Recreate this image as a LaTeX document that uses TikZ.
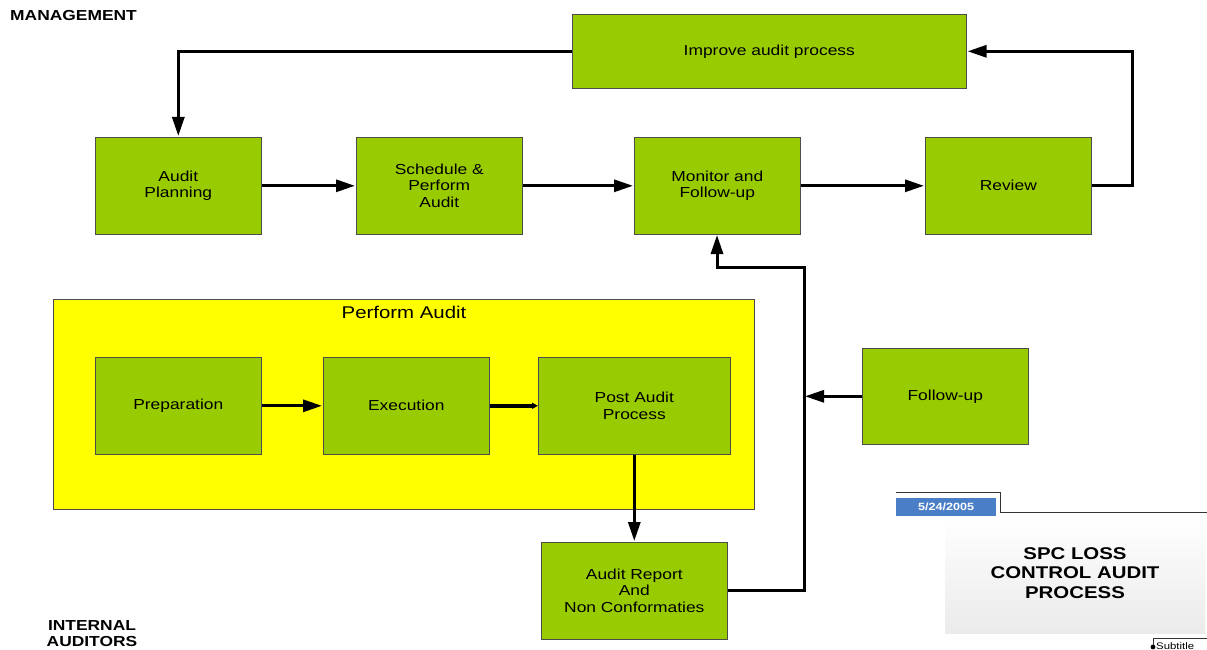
\documentclass[tikz,border=0pt]{standalone}
\usepackage{fontspec}
\setmainfont{Liberation Sans}[FakeStretch=1.2]
\usetikzlibrary{arrows.meta}
\definecolor{boxgreen}{HTML}{99CC00}
\definecolor{dateblue}{HTML}{4A7EC6}
\definecolor{framey}{HTML}{FFFF00}
\begin{document}
\begin{tikzpicture}[x=1pt,y=-1pt,
  stepbox/.style={draw=black!70, line width=0.6pt, fill=boxgreen, anchor=north west,
    minimum width=#1, align=center, font=\fontsize{14.5}{16.7}\selectfont, inner sep=0pt},
  flow/.style={line width=3pt, -{Triangle[length=19pt,width=12pt]}, shorten >=1pt},
  lane/.style={font=\bfseries\fontsize{14.5}{16}\selectfont, align=center}
]
\useasboundingbox (0,0) rectangle (1207,650);

% lane labels
\node[lane, anchor=west, inner sep=0pt] (mgmt) at (10,16) {MANAGEMENT};
\node[lane] (aud) at (92,634) {INTERNAL\\AUDITORS};

% yellow sub-process frame
\node[draw=black!70, fill=framey, line width=0.6pt, anchor=north west, minimum width=701pt, minimum height=210pt, inner sep=0pt] (frame) at (53,299) {};
\node[font=\fontsize{17}{19}\selectfont] (frametitle) at (404,312) {Perform Audit};

% process boxes
\node[stepbox=394pt, minimum height=74pt] (improve) at (572,14) {Improve audit process};
\node[stepbox=166pt, minimum height=97pt] (plan) at (95,137) {Audit\\Planning};
\node[stepbox=166pt, minimum height=97pt] (sched) at (356,137) {Schedule \&\\Perform\\Audit};
\node[stepbox=166pt, minimum height=97pt] (monitor) at (634,137) {Monitor and\\Follow-up};
\node[stepbox=166pt, minimum height=97pt] (review) at (925,137) {Review};
\node[stepbox=166pt, minimum height=97pt] (prep) at (95,357) {Preparation};
\node[stepbox=166pt, minimum height=97pt] (exec) at (323,357) {Execution};
\node[stepbox=192pt, minimum height=97pt] (post) at (538,357) {Post Audit\\Process};
\node[stepbox=166pt, minimum height=96pt] (follow) at (862,348) {Follow-up};
\node[stepbox=186pt, minimum height=97pt] (report) at (541,542) {Audit Report\\And\\Non Conformaties};

% connectors
\draw[flow] (improve.west) -| (plan.north);
\draw[flow] (review.east) -- ++(41,0) |- (improve.east);
\draw[flow] (plan.east) -- (sched.west);
\draw[flow] (sched.east) -- (monitor.west);
\draw[flow] (monitor.east) -- (review.west);
\draw[flow] (prep.east) -- (exec.west);
\draw[line width=3.6pt, -{Triangle[length=6pt,width=6pt]}] (exec.east) -- (post.west);
\draw[flow] (post.south) -- (report.north);
\coordinate (riser) at (804,267);
\coordinate (monin) at (717,234);
\draw[flow] (report.east) -| (riser) -| (monin);
\draw[flow] (follow.west) -- (riser |- follow.west);

% title block
\draw[black!80, line width=0.8pt] (896,492) -- (1000,492) -- (1000,512) -- (1207,512);
\node[fill=dateblue, anchor=north west, minimum width=100pt, minimum height=18pt, inner sep=0pt,
  text=white, font=\bfseries\fontsize{10.5}{12}\selectfont] (date) at (896,498) {5/24/2005};
\shade[top color=white, bottom color=black!8] (945,516) rectangle (1205,633);
\node[font=\bfseries\fontsize{17}{19.5}\selectfont, align=center] (title) at (1075,573) {SPC LOSS\\CONTROL AUDIT\\PROCESS};
\draw[black!80, line width=0.8pt] (1153,647) -- (1153,638) -- (1207,638);
\fill (1153,647) circle (2.4pt);
\node[anchor=west, font=\fontsize{9.5}{10}\selectfont, inner sep=0pt] (sub) at (1156,646) {Subtitle};
\end{tikzpicture}
\end{document}
